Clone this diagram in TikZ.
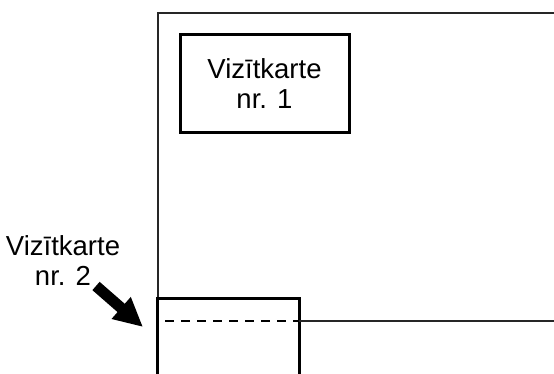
\documentclass[tikz,border=0pt]{standalone}
\usepackage{fontspec}
\setmainfont{Liberation Sans}
\usetikzlibrary{arrows.meta}
\begin{document}
\begin{tikzpicture}[x=1pt,y=-1pt,
  thinline/.style={line width=1.3pt,draw=black!85},
  thickbox/.style={line width=3pt,draw=black},
  lbl/.style={font=\fontsize{27.5}{30}\selectfont,align=center,inner sep=0pt},
  dashline/.style={line width=1.1pt,dash pattern=on 9pt off 7pt}]
\useasboundingbox (0,0) rectangle (554,374);
% sheet frame
\coordinate (fbl) at (158,376);
\coordinate (ftl) at (158,13);
\coordinate (ftr) at (556,13);
\draw[thinline] (fbl) -- (ftl) -- (ftr);
% card 1
\node[thickbox,lbl,minimum width=169pt,minimum height=98pt] (card1) at (264.5,84) {Vizītkarte\\nr. 1};
% card 2
\coordinate (c2bl) at (157,377);
\coordinate (c2tl) at (157,298);
\coordinate (c2tr) at (299,298);
\coordinate (c2br) at (299,377);
\draw[thickbox,line join=miter] (c2bl) -- (c2tl) -- (c2tr) -- (c2br);
% fold lines
\coordinate (dl) at (165,321);
\coordinate (dr) at (299,321);
\coordinate (hr) at (556,321);
\draw[dashline] (dl) -- (dr);
\draw[thinline,line width=1.1pt] (dr) -- (hr);
% label 2 and arrow
\node[lbl] (lab2) at (63,261) {Vizītkarte\\nr. 2};
\coordinate (atail) at (96,286);
\coordinate (atip) at (143,327);
\draw[line width=11pt,-{Triangle[length=29pt,width=27pt]}] (atail) -- (atip);
\end{tikzpicture}
\end{document}
